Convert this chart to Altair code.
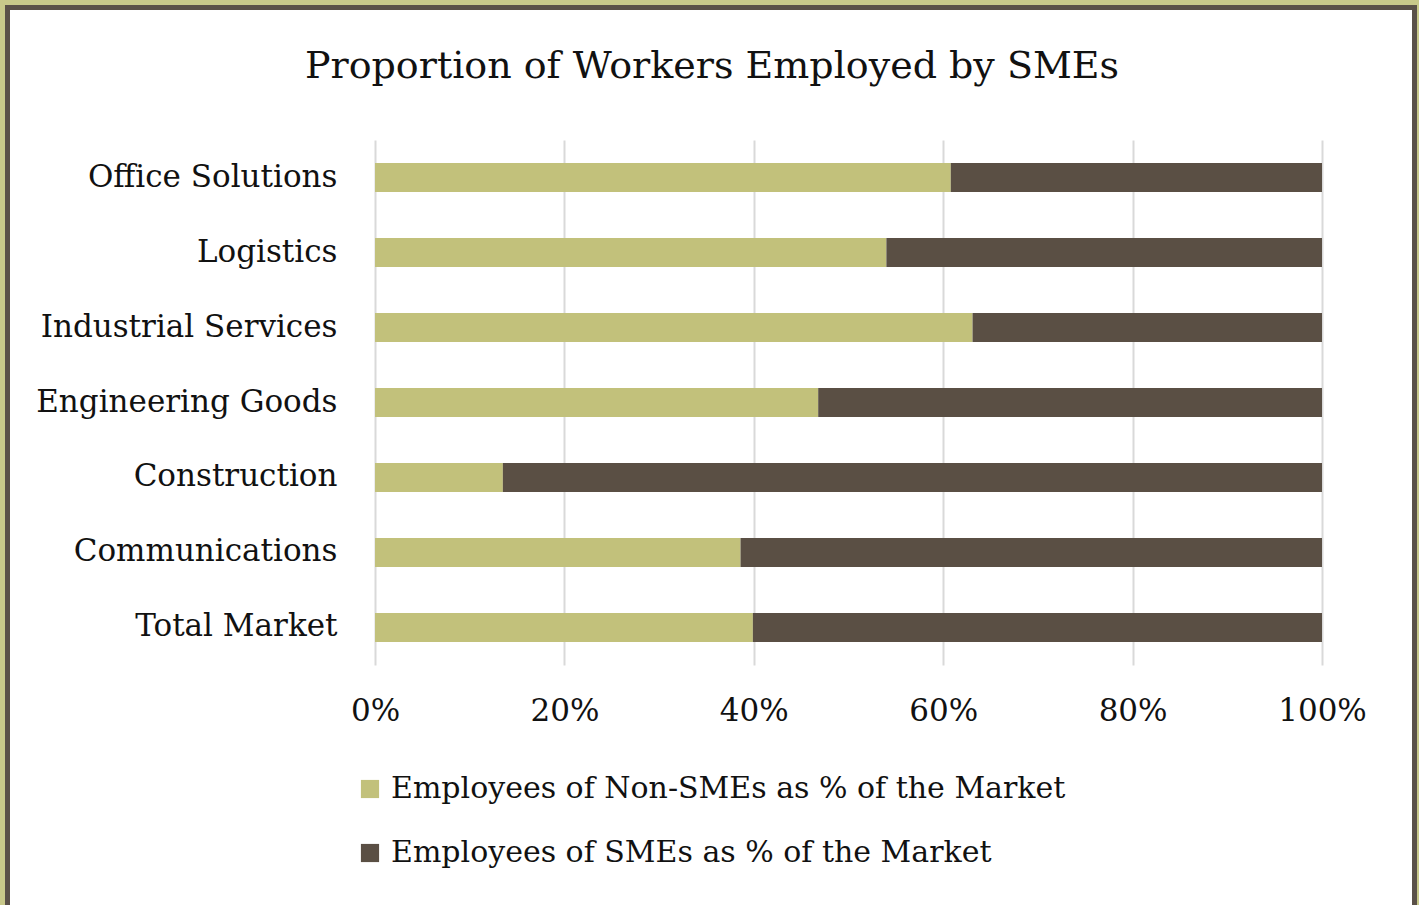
import altair as alt
import pandas as pd

categories = ["Office Solutions", "Logistics", "Industrial Services", "Engineering Goods",
              "Construction", "Communications", "Total Market"]
non_sme = [60.8, 54.0, 63.1, 46.8, 13.5, 38.6, 39.9]
sme = [100 - v for v in non_sme]
series = ["Employees of Non-SMEs as % of the Market", "Employees of SMEs as % of the Market"]
colors = ["#c2c17b", "#5a4f44"]
title_text = "Proportion of Workers Employed by SMEs"

rows = []
for c, a, b in zip(categories, non_sme, sme):
    rows.append({"cat": c, "series": series[0], "val": a, "ord": 0})
    rows.append({"cat": c, "series": series[1], "val": b, "ord": 1})
df = pd.DataFrame(rows)

FONT = "DejaVu Serif"
W, H = 947, 525
PL, PT, PR, PB = 375, 140, 97, 240

bars = alt.Chart(df).mark_bar().encode(
    y=alt.Y("cat:N", sort=categories,
            scale=alt.Scale(paddingInner=0.613, paddingOuter=0.307),
            axis=alt.Axis(title=None, ticks=False, domain=False, labelPadding=38,
                          labelFontSize=31, labelFont=FONT, labelColor="#111111",
                          grid=False, labelLimit=400)),
    x=alt.X("val:Q", stack="zero", scale=alt.Scale(domain=[0, 100], nice=False),
            axis=alt.Axis(title=None, values=[0, 20, 40, 60, 80, 100],
                          labelExpr="datum.value + '%'", ticks=False, domain=False,
                          labelFlush=False,
                          labelPadding=31, labelFontSize=31, labelFont=FONT,
                          labelColor="#111111", grid=True, gridColor="#d9d9d9",
                          gridWidth=2)),
    color=alt.Color("series:N", sort=series,
                    scale=alt.Scale(domain=series, range=colors),
                    legend=alt.Legend(title=None, orient="none", legendX=-20, legendY=634,
                                      direction="vertical", symbolType="square",
                                      symbolSize=330, symbolStrokeWidth=0,
                                      labelFont=FONT, labelFontSize=30, labelColor="#111111",
                                      rowPadding=34, labelOffset=6, labelLimit=900)),
    order=alt.Order("ord:Q"),
)

title = alt.Chart(pd.DataFrame({"t": [title_text]})).mark_text(
    font=FONT, fontSize=38, color="#111111", align="center", baseline="middle").encode(
    text="t:N", x=alt.value(712 - PL), y=alt.value(67 - PT))

# decorative frame (pixel positions relative to plot origin)
outer = alt.Chart(pd.DataFrame({"a": [0]})).mark_rect(
    fill=None, fillOpacity=0, stroke="#c8c88a", strokeWidth=10).encode(
    x=alt.value(-PL), x2=alt.value(1419 - PL), y=alt.value(-PT), y2=alt.value(905 - PT + 20))
inner = alt.Chart(pd.DataFrame({"a": [0]})).mark_rect(
    fill=None, fillOpacity=0, stroke="#5a5048", strokeWidth=5).encode(
    x=alt.value(7.5 - PL), x2=alt.value(1414.5 - PL), y=alt.value(7.5 - PT), y2=alt.value(905 - PT + 20))

chart = alt.layer(bars, title, outer, inner).properties(
    width=W, height=H,
    autosize=alt.AutoSizeParams(type="none"),
    padding={"left": PL, "top": PT, "right": PR, "bottom": PB},
).configure(background="white").configure_view(stroke=None)

chart.save("out.html", embed_options={"renderer": "svg", "actions": False})
